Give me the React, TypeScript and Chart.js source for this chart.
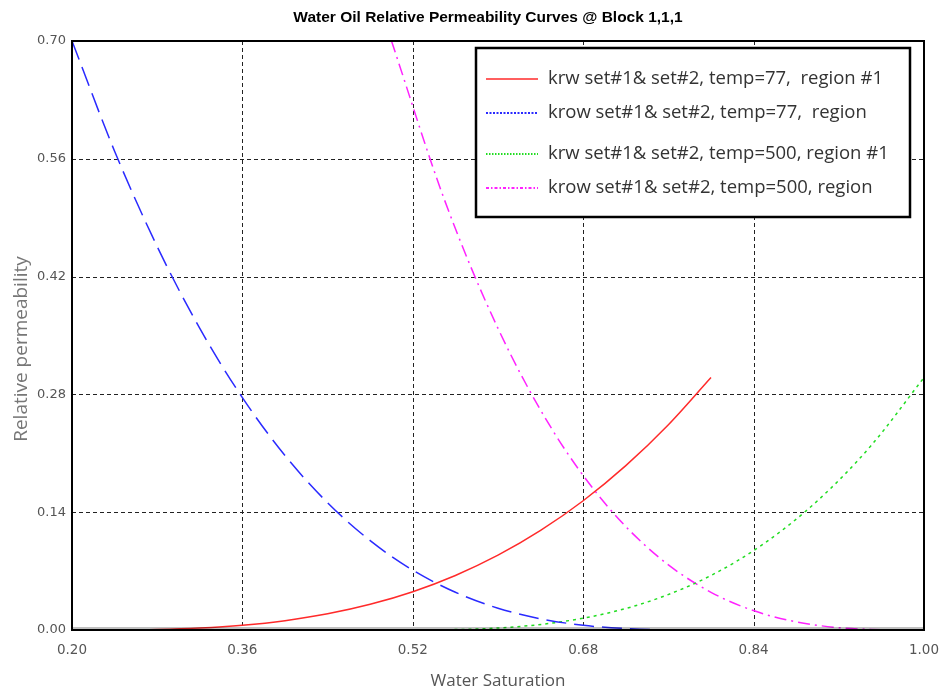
import React, { useEffect, useRef } from "react";
import { Chart, registerables } from "chart.js";

Chart.register(...registerables);

const TITLE = "Water Oil Relative Permeability Curves @ Block 1,1,1";
const X_TITLE = "Water Saturation";
const Y_TITLE = "Relative permeability";

const xTicks = [0.2, 0.36, 0.52, 0.68, 0.84, 1.0];
const yTicks = [0, 0.14, 0.28, 0.42, 0.56, 0.7];

// krw / krow at temp=77
const sw77 = [0.2, 0.24, 0.28, 0.32, 0.36, 0.4, 0.44, 0.48, 0.52, 0.56, 0.6, 0.64, 0.68, 0.72, 0.76, 0.8];
const krw77 = [0, 0.0001, 0.0007, 0.0024, 0.0057, 0.0111, 0.0192, 0.0305, 0.0455, 0.0648, 0.0889, 0.1183, 0.1536, 0.1953, 0.2439, 0.3];
const krow77 = [0.7, 0.569, 0.4557, 0.3584, 0.2761, 0.2074, 0.1512, 0.1062, 0.0711, 0.0448, 0.0259, 0.0133, 0.0056, 0.0017, 0.0002, 0];

// krw / krow at temp=500
const sw500 = [0.5, 0.55, 0.6, 0.65, 0.7, 0.75, 0.8, 0.85, 0.9, 0.95, 1.0];
const krw500 = [0, 0.0003, 0.0024, 0.0081, 0.0192, 0.0375, 0.0648, 0.1029, 0.1536, 0.2187, 0.3];
const krow500 = [0.7, 0.5103, 0.3584, 0.2401, 0.1512, 0.0875, 0.0448, 0.0189, 0.0056, 0.0007, 0];

const labels = [
  "krw set#1& set#2, temp=77,  region #1",
  "krow set#1& set#2, temp=77,  region",
  "krw set#1& set#2, temp=500, region #1",
  "krow set#1& set#2, temp=500, region",
];

const colors = ["#ff2a2a", "#2a2aff", "#22dd22", "#ff22ff"];
const plotDashes: number[][] = [[], [20, 8], [3, 4], [12, 5, 2, 5]];
const legendDashes: number[][] = [[], [2, 1.5], [1.5, 1.5], [3, 2, 1.5, 2]];

const pts = (xs: number[], ys: number[]) => xs.map((x, i) => ({ x, y: ys[i] }));

export default function App() {
  const ref = useRef<HTMLCanvasElement | null>(null);

  useEffect(() => {
    document.body.style.margin = "0";
    const canvas = ref.current;
    if (!canvas) return;

    const decor = {
      id: "decor",
      beforeDatasetsDraw(chart: any) {
        const { ctx, chartArea, scales } = chart;
        const { left, right, top, bottom } = chartArea;
        ctx.save();
        ctx.strokeStyle = "#222";
        ctx.lineWidth = 1;
        ctx.setLineDash([4, 3]);
        xTicks.forEach((v) => {
          const px = Math.round(scales.x.getPixelForValue(v)) + 0.5;
          ctx.beginPath();
          ctx.moveTo(px, top);
          ctx.lineTo(px, bottom);
          ctx.stroke();
        });
        yTicks.forEach((v) => {
          const py = Math.round(scales.y.getPixelForValue(v)) + 0.5;
          ctx.beginPath();
          ctx.moveTo(left, py);
          ctx.lineTo(right, py);
          ctx.stroke();
        });
        ctx.restore();
      },
      afterDraw(chart: any) {
        const { ctx, chartArea } = chart;
        const { left, right, top, bottom } = chartArea;
        ctx.save();
        // plot border
        ctx.setLineDash([]);
        ctx.strokeStyle = "#000";
        ctx.lineWidth = 2;
        ctx.strokeRect(left, top, right - left, bottom - top);
        ctx.fillStyle = "rgba(0,0,0,0.25)";
        ctx.fillRect(left, bottom - 3, right - left, 2);

        // title
        ctx.fillStyle = "#000";
        ctx.font = 'bold 15.5px "Liberation Sans", Arial, sans-serif';
        ctx.textAlign = "center";
        ctx.textBaseline = "middle";
        ctx.fillText(TITLE, 488, 18);

        // axis titles
        ctx.fillStyle = "#555";
        ctx.font = '17px "Open Sans", sans-serif';
        ctx.fillText(X_TITLE, 498, 681);
        ctx.save();
        ctx.translate(22, 349);
        ctx.rotate(-Math.PI / 2);
        ctx.fillStyle = "#777";
        ctx.font = '19px "Open Sans", sans-serif';
        ctx.fillText(Y_TITLE, 0, 0);
        ctx.restore();

        // legend
        const bx = 476, by = 48, bw = 434, bh = 169;
        ctx.fillStyle = "#fff";
        ctx.fillRect(bx, by, bw, bh);
        ctx.strokeStyle = "#000";
        ctx.lineWidth = 2.5;
        ctx.strokeRect(bx, by, bw, bh);
        const rows = [79, 113, 154, 188];
        ctx.font = '18.5px "Open Sans", sans-serif';
        ctx.textAlign = "left";
        ctx.textBaseline = "middle";
        rows.forEach((ry, i) => {
          ctx.beginPath();
          ctx.setLineDash(legendDashes[i]);
          ctx.strokeStyle = colors[i];
          ctx.lineWidth = i === 0 ? 1.5 : 2;
          ctx.moveTo(486, ry);
          ctx.lineTo(538, ry);
          ctx.stroke();
          ctx.setLineDash([]);
          ctx.fillStyle = "#333";
          ctx.fillText(chart.data.datasets[i].label, 548, ry);
        });
        ctx.restore();
      },
    };

    const chart = new Chart(canvas, {
      type: "line",
      data: {
        datasets: [
          { label: labels[0], data: pts(sw77, krw77) },
          { label: labels[1], data: pts(sw77, krow77) },
          { label: labels[2], data: pts(sw500, krw500) },
          { label: labels[3], data: pts(sw500, krow500) },
        ].map((d, i) => ({
          ...d,
          borderColor: colors[i],
          backgroundColor: colors[i],
          borderWidth: 1.5,
          borderDash: plotDashes[i],
          pointRadius: 0,
          fill: false,
          cubicInterpolationMode: "monotone" as const,
        })),
      },
      options: {
        animation: false,
        responsive: false,
        layout: { padding: { top: 41, right: 19, left: 0, bottom: 0 } },
        plugins: {
          legend: { display: false },
          title: { display: false },
          tooltip: { enabled: false },
        },
        scales: {
          x: {
            type: "linear",
            min: 0.2,
            max: 1.0,
            afterBuildTicks: (s: any) => {
              s.ticks = xTicks.map((v) => ({ value: v }));
            },
            afterFit: (s: any) => {
              s.height = 62;
              s.paddingLeft = 0;
              s.paddingRight = 0;
            },
            ticks: {
              padding: 12,
              color: "#555",
              font: { family: '"DejaVu Sans", sans-serif', size: 13.5 },
              callback: (v: any) => Number(v).toFixed(2),
            },
            grid: { display: false, drawTicks: false },
            border: { display: false },
            title: { display: false },
          },
          y: {
            type: "linear",
            min: 0,
            max: 0.7,
            afterBuildTicks: (s: any) => {
              s.ticks = yTicks.map((v) => ({ value: v }));
            },
            afterFit: (s: any) => {
              s.width = 72;
              s.paddingTop = 0;
              s.paddingBottom = 0;
            },
            ticks: {
              padding: 6,
              color: "#555",
              font: { family: '"DejaVu Sans", sans-serif', size: 13 },
              callback: (v: any) => Number(v).toFixed(2),
            },
            grid: { display: false, drawTicks: false },
            border: { display: false },
            title: { display: false },
          },
        },
      },
      plugins: [decor],
    });

    return () => chart.destroy();
  }, []);

  return (
    <div style={{ width: 943, height: 692 }}>
      <canvas ref={ref} width={943} height={692} style={{ width: 943, height: 692, display: "block" }} />
    </div>
  );
}
